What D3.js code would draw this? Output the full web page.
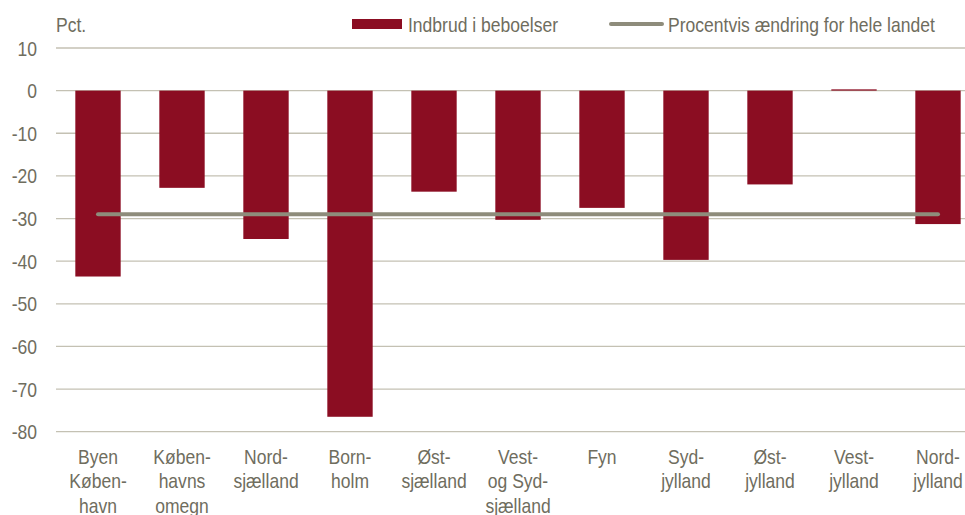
<!DOCTYPE html>
<html>
<head>
<meta charset="utf-8">
<script src="https://cdn.jsdelivr.net/npm/d3@7"></script>
<style>
  body { margin: 0; background: #fff; }
  svg text { font-family: "Liberation Sans", Arial, sans-serif; fill: #6f6d5e; }
</style>
</head>
<body>
<svg id="chart" width="965" height="515"></svg>
<script>
// regions (labels split over lines as in the original)
var regions = [
    ["Byen", "Køben-", "havn"],
    ["Køben-", "havns", "omegn"],
    ["Nord-", "sjælland"],
    ["Born-", "holm"],
    ["Øst-", "sjælland"],
    ["Vest-", "og Syd-", "sjælland"],
    ["Fyn"],
    ["Syd-", "jylland"],
    ["Øst-", "jylland"],
    ["Vest-", "jylland"],
    ["Nord-", "jylland"]
];
// procentvis ændring i indbrud i beboelser
var burglary = [-43.6, -22.8, -34.8, -76.5, -23.7, -30.3, -27.5, -39.7, -22.0, 0.3, -31.3];
// hele landet
var national = -29.0;
var yTicks = [10, 0, -10, -20, -30, -40, -50, -60, -70, -80];

var svg = d3.select('#chart');
var plotLeft = 56, plotRight = 980, plotTop = 48, plotBottom = 431.7;
var fs = 21;      // font is a narrow one, so squeeze it sideways
var sx = 0.835;

function place(x0, y0) {
    return 'translate(' + x0 + ',' + y0 + ') scale(' + sx + ',1)';
}

var x = d3.scaleBand()
    .domain(d3.range(regions.length))
    .range([plotLeft, plotRight])
    .paddingInner(0.46)
    .paddingOuter(0.23);

var y = d3.scaleLinear().domain([10, -80]).range([plotTop, plotBottom]);

// gridlines
svg.append('g')
    .selectAll('line')
    .data(yTicks)
    .enter().append('line')
    .attr('x1', plotLeft)
    .attr('x2', 965)
    .attr('y1', function (d) { return y(d); })
    .attr('y2', function (d) { return y(d); })
    .attr('stroke', '#c4c1b3')
    .attr('stroke-width', 1.3);

// y tick labels
svg.append('g')
    .selectAll('text')
    .data(yTicks)
    .enter().append('text')
    .attr('transform', function (d) { return place(37, y(d) + 7.5); })
    .attr('text-anchor', 'end')
    .attr('font-size', fs)
    .text(function (d) { return d; });

svg.append('text')
    .attr('transform', place(56, 32))
    .attr('font-size', fs)
    .text('Pct.');

// bars
svg.append('g')
    .selectAll('rect')
    .data(burglary)
    .enter().append('rect')
    .attr('x', function (d, i) { return x(i); })
    .attr('width', x.bandwidth())
    .attr('y', function (d) { return y(Math.max(0, d)); })
    .attr('height', function (d) { return Math.max(1, Math.abs(y(d) - y(0))); })
    .attr('fill', '#8b0d22');

// national line
var cx = function (i) { return x(i) + x.bandwidth() / 2; };
svg.append('line')
    .attr('x1', cx(0))
    .attr('x2', cx(regions.length - 1))
    .attr('y1', y(national))
    .attr('y2', y(national))
    .attr('stroke', '#8e8c7b')
    .attr('stroke-width', 4)
    .attr('stroke-linecap', 'round');

// x labels
var xl = svg.append('g')
    .selectAll('text')
    .data(regions)
    .enter().append('text')
    .attr('text-anchor', 'middle')
    .attr('font-size', fs)
    .attr('transform', function (d, i) { return place(cx(i), 464); });
xl.selectAll('tspan')
    .data(function (d) { return d; })
    .enter().append('tspan')
    .attr('x', 0)
    .attr('dy', function (d, j) { return j === 0 ? 0 : 24.5; })
    .text(function (d) { return d; });

// legend
svg.append('rect')
    .attr('x', 352).attr('y', 19)
    .attr('width', 50).attr('height', 10)
    .attr('fill', '#8b0d22');
svg.append('text')
    .attr('transform', place(408, 32))
    .attr('font-size', fs)
    .text('Indbrud i beboelser');
svg.append('line')
    .attr('x1', 611).attr('x2', 662)
    .attr('y1', 24).attr('y2', 24)
    .attr('stroke', '#8e8c7b')
    .attr('stroke-width', 4)
    .attr('stroke-linecap', 'round');
svg.append('text')
    .attr('transform', place(668, 32))
    .attr('font-size', fs)
    .text('Procentvis ændring for hele landet');
</script>
</body>
</html>
